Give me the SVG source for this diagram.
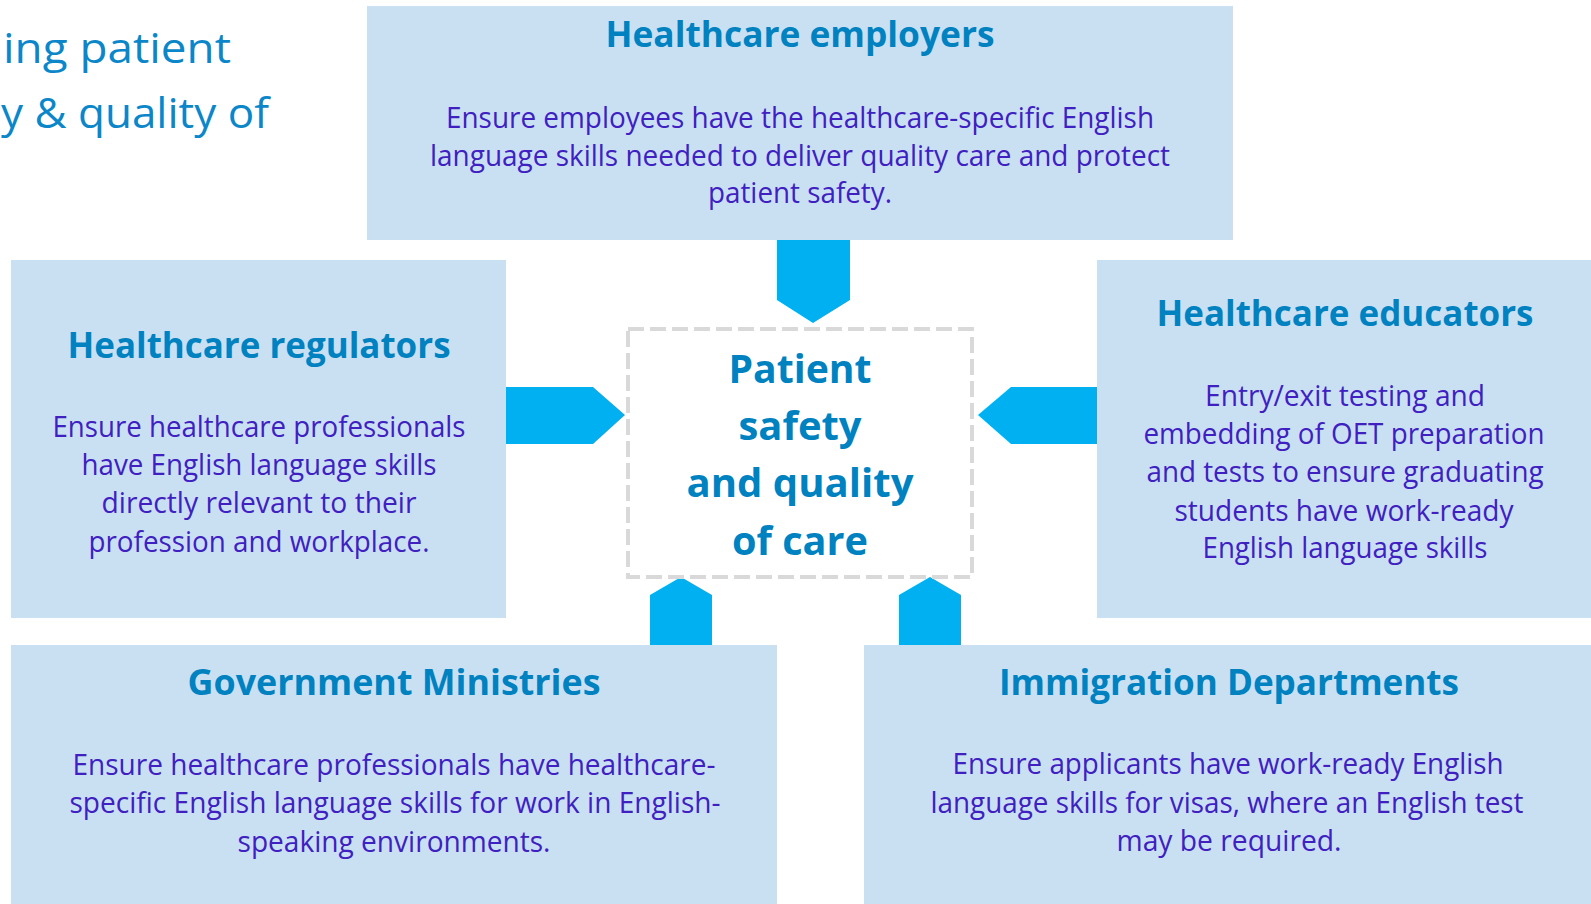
<svg xmlns="http://www.w3.org/2000/svg" width="1591" height="904" viewBox="0 0 1591 904">
<style>
text{font-family:"Open Sans","Noto Sans","Liberation Sans",sans-serif;text-anchor:middle}
.box{fill:#c9e0f3}
.ttl{font-weight:700;font-size:36px;fill:#0082c0}
.body{font-size:29px;fill:#4020c0}
.ctr{font-weight:700;font-size:40px;fill:#0082c0}
.hdr{font-size:42px;fill:#0b87c9;text-anchor:start}
.arr{fill:#00b0f0}
</style>
<rect width="1591" height="904" fill="#ffffff"/>
<g id="page-title">
<text class="hdr" x="3" y="63" textLength="228" lengthAdjust="spacingAndGlyphs">ing patient</text>
<text class="hdr" x="1" y="128" textLength="268" lengthAdjust="spacingAndGlyphs">y &amp; quality of</text>
</g>
<g id="connectors">
<polygon class="arr" points="777,240 850,240 850,300 813,323 777,300"/>
<polygon class="arr" points="506,387 593,387 625,415 593,444 506,444"/>
<polygon class="arr" points="1097,387 1011,387 978,415 1011,444 1097,444"/>
<polygon class="arr" points="650,645 650,595 681,577 712,595 712,645"/>
<polygon class="arr" points="899,645 899,595 930,577 961,595 961,645"/>
</g>
<g id="center">
<rect x="628" y="329" width="344" height="248" fill="#ffffff" stroke="#d9d9d9" stroke-width="4" stroke-dasharray="16 6"/>
<text class="ctr" x="800" y="383" textLength="143" lengthAdjust="spacingAndGlyphs">Patient</text>
<text class="ctr" x="800" y="440" textLength="123" lengthAdjust="spacingAndGlyphs">safety</text>
<text class="ctr" x="800" y="497" textLength="227" lengthAdjust="spacingAndGlyphs">and quality</text>
<text class="ctr" x="800" y="555" textLength="136" lengthAdjust="spacingAndGlyphs">of care</text>
</g>
<g id="employers">
<rect class="box" x="367" y="6" width="866" height="234"/>
<text class="ttl" x="800" y="47" textLength="389" lengthAdjust="spacingAndGlyphs">Healthcare employers</text>
<text class="body" x="800" y="128" textLength="708" lengthAdjust="spacingAndGlyphs">Ensure employees have the healthcare-specific English</text>
<text class="body" x="800" y="166" textLength="740" lengthAdjust="spacingAndGlyphs">language skills needed to deliver quality care and protect</text>
<text class="body" x="800" y="203" textLength="184" lengthAdjust="spacingAndGlyphs">patient safety.</text>
</g>
<g id="regulators">
<rect class="box" x="11" y="260" width="495" height="358"/>
<text class="ttl" x="259" y="358" textLength="383" lengthAdjust="spacingAndGlyphs">Healthcare regulators</text>
<text class="body" x="259" y="437" textLength="413" lengthAdjust="spacingAndGlyphs">Ensure healthcare professionals</text>
<text class="body" x="259" y="475" textLength="355" lengthAdjust="spacingAndGlyphs">have English language skills</text>
<text class="body" x="259" y="513" textLength="315" lengthAdjust="spacingAndGlyphs">directly relevant to their</text>
<text class="body" x="259" y="552" textLength="341" lengthAdjust="spacingAndGlyphs">profession and workplace.</text>
</g>
<g id="educators">
<rect class="box" x="1097" y="260" width="494" height="358"/>
<text class="ttl" x="1345" y="326" textLength="377" lengthAdjust="spacingAndGlyphs">Healthcare educators</text>
<text class="body" x="1345" y="406" textLength="280" lengthAdjust="spacingAndGlyphs">Entry/exit testing and</text>
<text class="body" x="1344" y="444" textLength="401" lengthAdjust="spacingAndGlyphs">embedding of OET preparation</text>
<text class="body" x="1345" y="482" textLength="397" lengthAdjust="spacingAndGlyphs">and tests to ensure graduating</text>
<text class="body" x="1344" y="521" textLength="339" lengthAdjust="spacingAndGlyphs">students have work-ready</text>
<text class="body" x="1345" y="558" textLength="285" lengthAdjust="spacingAndGlyphs">English language skills</text>
</g>
<g id="ministries">
<rect class="box" x="11" y="645" width="766" height="259"/>
<text class="ttl" x="394" y="695" textLength="413" lengthAdjust="spacingAndGlyphs">Government Ministries</text>
<text class="body" x="394" y="775" textLength="643" lengthAdjust="spacingAndGlyphs">Ensure healthcare professionals have healthcare-</text>
<text class="body" x="395" y="813" textLength="651" lengthAdjust="spacingAndGlyphs">specific English language skills for work in English-</text>
<text class="body" x="394" y="852" textLength="313" lengthAdjust="spacingAndGlyphs">speaking environments.</text>
</g>
<g id="immigration">
<rect class="box" x="864" y="645" width="727" height="259"/>
<text class="ttl" x="1229" y="695" textLength="460" lengthAdjust="spacingAndGlyphs">Immigration Departments</text>
<text class="body" x="1228" y="774" textLength="551" lengthAdjust="spacingAndGlyphs">Ensure applicants have work-ready English</text>
<text class="body" x="1227" y="813" textLength="593" lengthAdjust="spacingAndGlyphs">language skills for visas, where an English test</text>
<text class="body" x="1229" y="851" textLength="225" lengthAdjust="spacingAndGlyphs">may be required.</text>
</g>
</svg>
